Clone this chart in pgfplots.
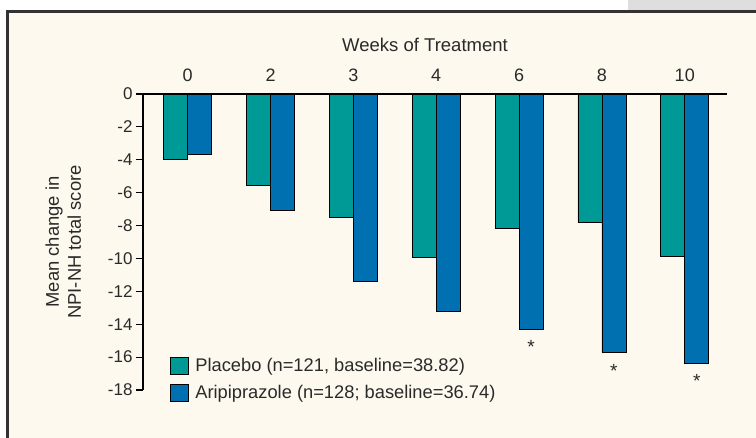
\documentclass[border=0pt]{standalone}
\usepackage{fontspec}
\setmainfont{Liberation Sans}
\usepackage{pgfplots}
\pgfplotsset{compat=1.18}
\definecolor{cream}{HTML}{FDF9EE}
\definecolor{tealbar}{HTML}{009A96}
\definecolor{bluebar}{HTML}{0070B0}
\definecolor{framec}{HTML}{333333}
\definecolor{txt}{HTML}{2A2A2A}
\begin{document}
\begin{tikzpicture}
\useasboundingbox (0pt,0pt) rectangle (756pt,-437pt);
\fill[white] (0pt,0pt) rectangle (756pt,-437pt);
\fill[black!13] (628pt,0pt) rectangle (756pt,-10pt);
\filldraw[fill=cream, draw=framec, line width=3pt] (7pt,-11.5pt) rectangle (800pt,-480pt);
\begin{axis}[
  at={(143pt,-94pt)}, anchor=north west,
  scale only axis, width=584pt, height=296pt,
  xmin=-0.54, xmax=6.51, ymin=-18, ymax=0,
  axis x line*=top, axis y line*=left,
  axis line style={line width=1.4pt, color=black},
  xtick={0,1,2,3,4,5,6}, xticklabels={0,2,3,4,6,8,10},
  x tick style={draw=none},
  xticklabel style={yshift=2pt, font=\fontsize{18}{20}\selectfont},
  ytick={0,-2,-4,-6,-8,-10,-12,-14,-16,-18},
  yticklabels={0,-2,-4,-6,-8,-10,-12,-14,-16,-18},
  tick align=outside, major tick length=7pt,
  y tick style={line width=1.2pt, color=black},
  tick label style={font=\fontsize{17}{19}\selectfont, text=txt},
  title={Weeks of Treatment},
  title style={font=\fontsize{18.5}{21}\selectfont, text=txt, xshift=-10pt, yshift=33pt},
  ylabel={Mean change in\\NPI-NH total score},
  ylabel style={align=center, font=\fontsize{18.4}{22}\selectfont, text=txt, yshift=20pt},
  ybar, bar width=24pt,
  legend style={at={(0.04,0.12)}, anchor=north west, draw=none, fill=none,
    font=\fontsize{18.3}{20}\selectfont, text=txt, row sep=8pt,
    /tikz/every odd column/.append style={column sep=5pt}},
  legend cell align=left,
  clip=false,
]
\addplot[fill=tealbar, draw=black, line width=0.8pt, bar shift=-12pt,
  legend image code/.code={\draw[fill=tealbar, draw=black, line width=0.8pt] (0pt,-8.5pt) rectangle (18pt,8.5pt);}]
  coordinates {(0,-4.0) (1,-5.57) (2,-7.48) (3,-9.93) (4,-8.15) (5,-7.79) (6,-9.9)};
\addlegendentry{Placebo (n=121, baseline=38.82)}
\addplot[fill=bluebar, draw=black, line width=0.8pt, bar shift=12pt,
  legend image code/.code={\draw[fill=bluebar, draw=black, line width=0.8pt] (0pt,-8.5pt) rectangle (18pt,8.5pt);}]
  coordinates {(0,-3.7) (1,-7.05) (2,-11.4) (3,-13.24) (4,-14.3) (5,-15.73) (6,-16.38)};
\addlegendentry{Aripiprazole (n=128; baseline=36.74)}
\addplot[draw=none, fill=none, bar shift=12pt, forget plot,
  nodes near coords={*},
  every node near coord/.append style={font=\fontsize{19}{21}\selectfont, text=txt, anchor=north, yshift=-8pt}]
  coordinates {(4,-14.3) (5,-15.73) (6,-16.38)};
\end{axis}
\end{tikzpicture}
\end{document}
